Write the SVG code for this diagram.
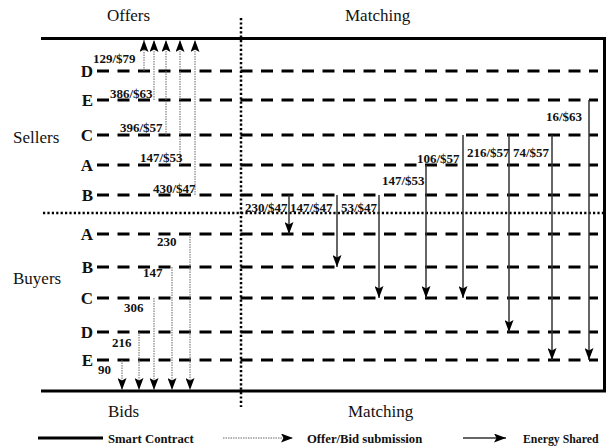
<svg xmlns="http://www.w3.org/2000/svg" width="612" height="448" viewBox="0 0 612 448">
<style>
text{font-family:"Liberation Serif","Times New Roman",serif;fill:#111}
.title{font-size:17px}
.let{font-size:17px;font-weight:bold;text-anchor:end}
.num{font-size:13px;font-weight:bold}
.leg{font-size:12.7px;font-weight:bold}
.dash{stroke:#000;stroke-width:3;stroke-dasharray:12 8.5;fill:none}
.box{stroke:#000;stroke-width:3;fill:none}
.sep{stroke:#000;stroke-width:2.5;stroke-dasharray:2.2 2.2;fill:none}
.sub{stroke:#666;stroke-width:1;stroke-dasharray:1.5 1;fill:none;marker-end:url(#ah)}
.eng{stroke:#333;stroke-width:1.5;fill:none;marker-end:url(#ah)}
</style>
<defs>
<marker id="ah" viewBox="0 0 12 9" markerWidth="12" markerHeight="9" refX="12" refY="4.5" orient="auto" markerUnits="userSpaceOnUse">
<path d="M0,0 L12,4.5 L0,9 L2.5,4.5 z" fill="#000"/>
</marker>
</defs>
<rect width="612" height="448" fill="#fff"/>

<g id="smart-contract">
<path class="box" d="M41,38.5 H604.5 V391 H41"/>
</g>

<g id="separators">
<line class="sep" x1="241" y1="18" x2="241" y2="407"/>
<line class="sep" x1="43" y1="213" x2="604" y2="213"/>
</g>

<g id="titles">
<text class="title" x="107" y="21">Offers</text>
<text class="title" x="345" y="21">Matching</text>
<text class="title" x="13" y="143">Sellers</text>
<text class="title" x="13" y="284">Buyers</text>
<text class="title" x="108" y="417">Bids</text>
<text class="title" x="348" y="417">Matching</text>
</g>

<g id="seller-D"><text class="let" x="93" y="77">D</text><line class="dash" x1="97" y1="71" x2="598" y2="71"/></g>
<g id="seller-E"><text class="let" x="93" y="106">E</text><line class="dash" x1="97" y1="100" x2="598" y2="100"/></g>
<g id="seller-C"><text class="let" x="93" y="141">C</text><line class="dash" x1="97" y1="135" x2="598" y2="135"/></g>
<g id="seller-A"><text class="let" x="93" y="171">A</text><line class="dash" x1="97" y1="165" x2="598" y2="165"/></g>
<g id="seller-B"><text class="let" x="93" y="201">B</text><line class="dash" x1="97" y1="195" x2="598" y2="195"/></g>

<g id="buyer-A"><text class="let" x="93" y="240">A</text><line class="dash" x1="97" y1="234" x2="598" y2="234"/></g>
<g id="buyer-B"><text class="let" x="93" y="273">B</text><line class="dash" x1="97" y1="267" x2="598" y2="267"/></g>
<g id="buyer-C"><text class="let" x="93" y="304">C</text><line class="dash" x1="97" y1="298" x2="598" y2="298"/></g>
<g id="buyer-D"><text class="let" x="93" y="338">D</text><line class="dash" x1="97" y1="332" x2="598" y2="332"/></g>
<g id="buyer-E"><text class="let" x="93" y="366">E</text><line class="dash" x1="97" y1="360" x2="598" y2="360"/></g>

<g id="connectors">
<line class="sub" x1="144" y1="71" x2="144" y2="40"/>
<line class="sub" x1="154" y1="100" x2="154" y2="40"/>
<line class="sub" x1="166" y1="135" x2="166" y2="40"/>
<line class="sub" x1="180" y1="165" x2="180" y2="40"/>
<line class="sub" x1="195" y1="195" x2="195" y2="40"/>

<line class="sub" x1="122" y1="360" x2="122" y2="390"/>
<line class="sub" x1="139" y1="332" x2="139" y2="390"/>
<line class="sub" x1="154" y1="298" x2="154" y2="390"/>
<line class="sub" x1="172" y1="267" x2="172" y2="390"/>
<line class="sub" x1="190" y1="234" x2="190" y2="390"/>

<line class="eng" x1="289" y1="195" x2="289" y2="234"/>
<line class="eng" x1="337" y1="195" x2="337" y2="267"/>
<line class="eng" x1="379" y1="195" x2="379" y2="298"/>
<line class="eng" x1="426" y1="165" x2="426" y2="298"/>
<line class="eng" x1="463" y1="135" x2="463" y2="298"/>
<line class="eng" x1="509" y1="135" x2="509" y2="332"/>
<line class="eng" x1="552" y1="135" x2="552" y2="360"/>
<line class="eng" x1="589" y1="100" x2="589" y2="360"/>
</g>

<g id="labels">
<text class="num" x="93" y="63">129/$79</text>
<text class="num" x="110" y="97.5">386/$63</text>
<text class="num" x="120" y="132">396/$57</text>
<text class="num" x="140" y="162">147/$53</text>
<text class="num" x="153" y="192.5">430/$47</text>

<text class="num" x="245" y="212">230/$47</text>
<text class="num" x="290" y="212">147/$47</text>
<text class="num" x="341" y="212">53/$47</text>
<text class="num" x="382" y="185">147/$53</text>
<text class="num" x="417" y="163">106/$57</text>
<text class="num" x="467" y="157">216/$57</text>
<text class="num" x="513" y="157">74/$57</text>
<text class="num" x="546" y="121">16/$63</text>

<text class="num" x="157" y="246">230</text>
<text class="num" x="143" y="277">147</text>
<text class="num" x="124" y="312">306</text>
<text class="num" x="112" y="347">216</text>
<text class="num" x="98" y="374">90</text>
</g>

<g id="legend">
<line x1="38" y1="438" x2="103" y2="438" stroke="#000" stroke-width="3"/>
<text class="leg" x="108" y="442.5">Smart Contract</text>
<line x1="223" y1="438" x2="293" y2="438" stroke="#666" stroke-width="1" stroke-dasharray="1.5 1" marker-end="url(#ah)"/>
<text class="leg" x="307" y="442.5">Offer/Bid submission</text>
<line x1="463" y1="438" x2="506" y2="438" stroke="#333" stroke-width="1.5" marker-end="url(#ah)"/>
<text class="leg" x="523" y="442.5" style="font-size:11.8px">Energy Shared</text>
</g>
</svg>
